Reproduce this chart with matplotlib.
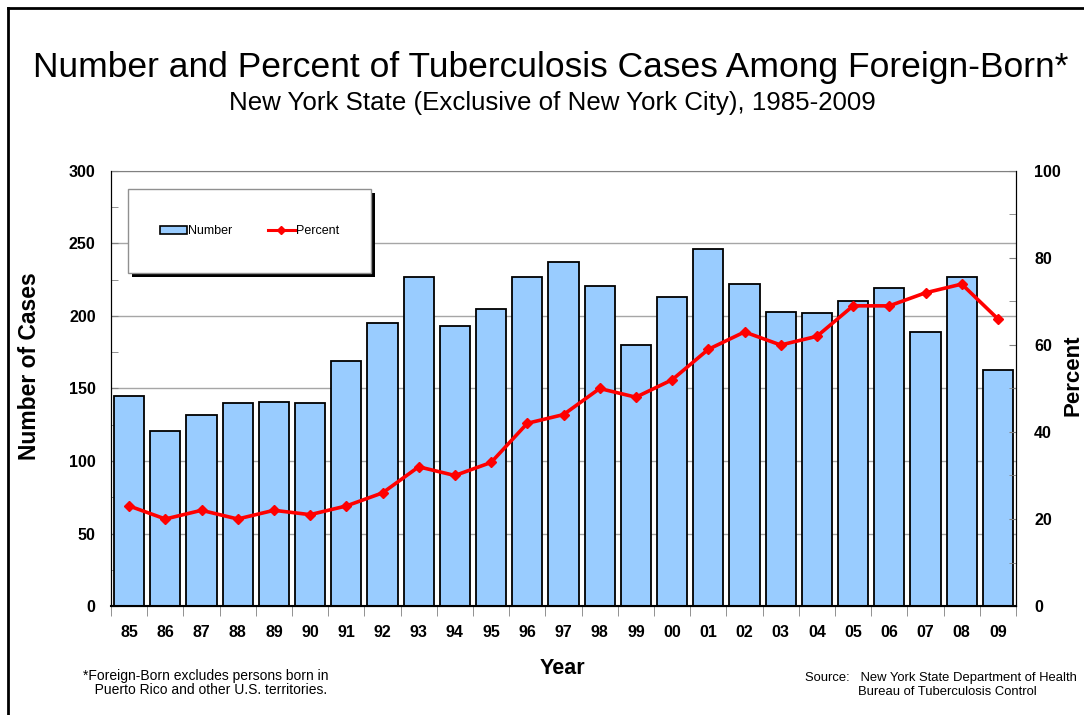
import numpy as np
import matplotlib
matplotlib.use("Agg")
import matplotlib.pyplot as plt
from matplotlib.patches import Rectangle
from matplotlib.lines import Line2D

plt.rcParams['font.family'] = ['Liberation Sans', 'DejaVu Sans']

years = ['85', '86', '87', '88', '89', '90', '91', '92', '93', '94', '95', '96', '97',
         '98', '99', '00', '01', '02', '03', '04', '05', '06', '07', '08', '09']
cases = [145, 121, 132, 140, 141, 140, 169, 195, 227, 193, 205, 227, 237,
         221, 180, 213, 246, 222, 203, 202, 210, 219, 189, 227, 163]
percent = [23, 20, 22, 20, 22, 21, 23, 26, 32, 30, 33, 42, 44,
           50, 48, 52, 59, 63, 60, 62, 69, 69, 72, 74, 66]

W, H = 1084, 715
fig = plt.figure(figsize=(W / 100, H / 100), dpi=100)


def fx(px):
    return px / W


def fy(py):
    return 1 - py / H


# axes box in pixels: left 111, right 1016, top 171, bottom 606
ax = fig.add_axes([fx(111), fy(606), fx(1016 - 111), (606 - 171) / H])
x = np.arange(len(years))

ax.bar(x, cases, width=0.83, color='#99CCFF', edgecolor='black', linewidth=1.3, zorder=2)
ax.set_xlim(-0.5, len(years) - 0.5)
ax.set_ylim(0, 300)
ax.set_yticks(np.arange(0, 301, 50))
ax.set_yticks(np.arange(0, 301, 25), minor=True)
ax.yaxis.grid(True, color='#A6A6A6', linewidth=1.0, zorder=0)
ax.set_axisbelow(True)

ax.set_xticks(x)
ax.set_xticklabels(years, fontsize=11.5, fontweight='bold')
ax.set_xticks(np.arange(-0.5, len(years), 1), minor=True)
ax.tick_params(axis='x', which='major', length=0, pad=14)
ax.tick_params(axis='x', which='minor', length=7, direction='out', color='#808080')
ax.tick_params(axis='y', which='both', direction='in', length=5, color='#808080')
ax.tick_params(axis='y', which='major', pad=11)
for lbl in ax.get_yticklabels():
    lbl.set_fontsize(11.5)
    lbl.set_fontweight('bold')

ax.spines['top'].set_color('#808080')
ax.spines['left'].set_color('black')
ax.spines['bottom'].set_color('black')
ax.spines['bottom'].set_linewidth(1.5)

ax2 = ax.twinx()
ax2.plot(x, percent, color='red', linewidth=2.6, marker='D', markersize=5.5, zorder=3)
ax2.set_ylim(0, 100)
ax2.set_yticks(np.arange(0, 101, 20))
ax2.set_yticks(np.arange(0, 101, 10), minor=True)
ax2.tick_params(axis='y', which='both', direction='in', length=5, color='#808080')
ax2.tick_params(axis='y', which='major', pad=13)
for lbl in ax2.get_yticklabels():
    lbl.set_fontsize(11.5)
    lbl.set_fontweight('bold')
ax2.spines['right'].set_color('black')
ax2.spines['top'].set_visible(False)

# axis titles
fig.text(fx(30), fy(366), 'Number of Cases', rotation=90, ha='center', va='center',
         fontsize=16.5, fontweight='bold')
fig.text(fx(1073), fy(375), 'Percent', rotation=90, ha='center', va='center',
         fontsize=16, fontweight='bold')
fig.text(fx(562), fy(669), 'Year', ha='center', va='center', fontsize=15.5, fontweight='bold')

# legend box with black drop shadow
lx0, ly0, lx1, ly1 = 128, 189, 371, 273
fig.add_artist(Rectangle((fx(lx0 + 4), fy(ly1 + 4)), (lx1 - lx0) / W, (ly1 - ly0) / H,
                         transform=fig.transFigure, facecolor='black', edgecolor='none', zorder=5))
fig.add_artist(Rectangle((fx(lx0), fy(ly1)), (lx1 - lx0) / W, (ly1 - ly0) / H,
                         transform=fig.transFigure, facecolor='white', edgecolor='#909090',
                         linewidth=1, zorder=6))
handles = [Rectangle((0, 0), 1, 1, facecolor='#99CCFF', edgecolor='black', linewidth=1.2),
           Line2D([], [], color='red', linewidth=2.2, marker='D', markersize=4)]
leg = fig.legend(handles, ['Number', 'Percent'], loc='center',
                 bbox_to_anchor=(fx((lx0 + lx1) / 2), fy(231)), ncol=2, frameon=False,
                 fontsize=9, handlelength=2.2, handleheight=0.6, handletextpad=0.1,
                 columnspacing=2.8)
leg.set_zorder(7)

fig.text(fx(551), fy(68), 'Number and Percent of Tuberculosis Cases Among Foreign-Born*',
         ha='center', va='center', fontsize=25.5)
fig.text(fx(552), fy(103), 'New York State (Exclusive of New York City), 1985-2009',
         ha='center', va='center', fontsize=18.6)

fig.text(fx(83), fy(683),
         '*Foreign-Born excludes persons born in\n   Puerto Rico and other U.S. territories.',
         ha='left', va='center', fontsize=10, linespacing=0.95)
fig.text(fx(805), fy(678), 'Source:   New York State Department of Health',
         ha='left', va='center', fontsize=9.4)
fig.text(fx(858), fy(692), 'Bureau of Tuberculosis Control',
         ha='left', va='center', fontsize=9.4)

# outer frame (left and top edges)
fig.add_artist(Line2D([fx(8), fx(8)], [0, fy(8)], transform=fig.transFigure,
                      color='black', linewidth=2))
fig.add_artist(Line2D([fx(8), 1], [fy(8), fy(8)], transform=fig.transFigure,
                      color='black', linewidth=2))

fig.savefig('out.png', dpi=100)
